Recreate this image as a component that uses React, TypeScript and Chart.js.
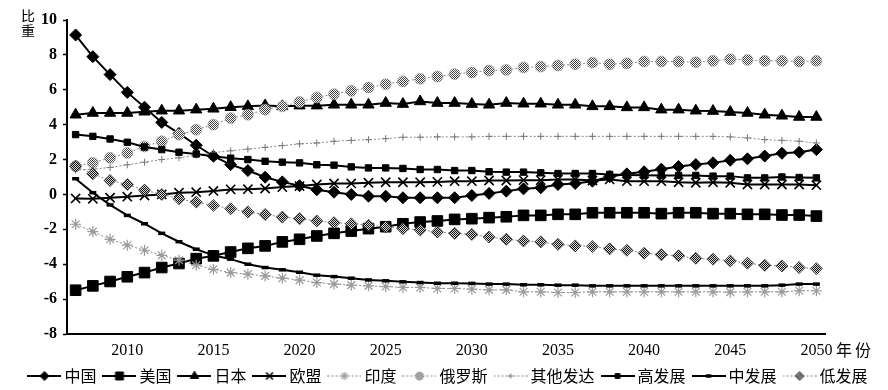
import React, { useEffect, useRef } from 'react';
import { Chart, registerables } from 'chart.js';
import { drawPoint } from 'chart.js/helpers';

Chart.register(...registerables);

// ---------- data ----------
const years = [
  2007, 2008, 2009, 2010, 2011, 2012, 2013, 2014, 2015, 2016, 2017,
  2018, 2019, 2020, 2021, 2022, 2023, 2024, 2025, 2026, 2027, 2028,
  2029, 2030, 2031, 2032, 2033, 2034, 2035, 2036, 2037, 2038, 2039,
  2040, 2041, 2042, 2043, 2044, 2045, 2046, 2047, 2048, 2049, 2050,
];
const xTickYears = [2010, 2015, 2020, 2025, 2030, 2035, 2040, 2045, 2050];
const yMin = -8;
const yMax = 10;
const yStep = 2;
const yAxisTitle = ['比', '重'];
const xAxisTitle = ['年', '份'];

const seriesNames = ['中国', '美国', '日本', '欧盟', '印度', '俄罗斯', '其他发达', '高发展', '中发展', '低发展'];

const china = [
  9.14, 7.9, 6.87, 5.85, 5.0, 4.13, 3.5, 2.82, 2.19, 1.71, 1.37,
  0.99, 0.72, 0.5, 0.27, 0.13, 0.0, -0.1, -0.1, -0.19, -0.19, -0.19,
  -0.19, -0.06, 0.06, 0.19, 0.32, 0.38, 0.57, 0.63, 0.76, 1.02, 1.18,
  1.3, 1.45, 1.6, 1.71, 1.81, 1.96, 2.04, 2.2, 2.36, 2.42, 2.57,
];
const usa = [
  -5.49, -5.24, -4.99, -4.72, -4.48, -4.19, -3.96, -3.68, -3.52, -3.3, -3.09,
  -2.95, -2.72, -2.57, -2.38, -2.23, -2.1, -1.96, -1.85, -1.68, -1.58, -1.52,
  -1.43, -1.39, -1.33, -1.28, -1.2, -1.2, -1.14, -1.14, -1.05, -1.05, -1.05,
  -1.05, -1.1, -1.05, -1.05, -1.1, -1.1, -1.14, -1.14, -1.18, -1.18, -1.24,
];
const japan = [
  4.57, 4.67, 4.67, 4.67, 4.74, 4.8, 4.8, 4.86, 4.91, 5.0, 5.05,
  5.1, 5.05, 5.09, 5.09, 5.14, 5.14, 5.14, 5.24, 5.18, 5.33, 5.24,
  5.24, 5.18, 5.14, 5.24, 5.2, 5.2, 5.14, 5.14, 5.05, 5.05, 4.99,
  4.99, 4.86, 4.86, 4.8, 4.78, 4.72, 4.67, 4.57, 4.51, 4.44, 4.44,
];
const eu = [
  -0.23, -0.25, -0.19, -0.13, -0.06, 0.0, 0.1, 0.13, 0.2, 0.29, 0.3,
  0.34, 0.42, 0.48, 0.57, 0.63, 0.63, 0.67, 0.7, 0.7, 0.7, 0.72,
  0.76, 0.76, 0.8, 0.8, 0.82, 0.82, 0.85, 0.85, 0.8, 0.86, 0.76,
  0.76, 0.76, 0.7, 0.67, 0.7, 0.67, 0.57, 0.57, 0.57, 0.57, 0.53,
];
const india = [
  -1.71, -2.13, -2.57, -2.91, -3.2, -3.49, -3.77, -4.06, -4.29, -4.48, -4.57,
  -4.67, -4.8, -4.91, -5.05, -5.14, -5.2, -5.24, -5.28, -5.33, -5.33, -5.39,
  -5.39, -5.43, -5.47, -5.47, -5.58, -5.58, -5.62, -5.62, -5.58, -5.58, -5.58,
  -5.58, -5.58, -5.58, -5.58, -5.58, -5.6, -5.58, -5.58, -5.58, -5.52, -5.52,
];
const russia = [
  1.62, 1.81, 2.1, 2.38, 2.75, 3.05, 3.43, 3.71, 4.0, 4.38, 4.57,
  4.86, 5.05, 5.3, 5.56, 5.75, 5.94, 6.13, 6.32, 6.48, 6.63, 6.76,
  6.9, 6.99, 7.1, 7.14, 7.28, 7.33, 7.39, 7.47, 7.56, 7.47, 7.52,
  7.62, 7.62, 7.62, 7.58, 7.66, 7.75, 7.71, 7.66, 7.66, 7.62, 7.66,
];
const otherDeveloped = [
  1.4, 1.45, 1.55, 1.7, 1.85, 2.0, 2.1, 2.25, 2.4, 2.5, 2.6,
  2.7, 2.8, 2.9, 2.95, 3.05, 3.1, 3.14, 3.2, 3.28, 3.28, 3.3,
  3.3, 3.3, 3.33, 3.33, 3.33, 3.33, 3.33, 3.33, 3.33, 3.33, 3.33,
  3.33, 3.33, 3.33, 3.33, 3.33, 3.3, 3.24, 3.14, 3.1, 3.05, 2.95,
];
const highDev = [
  3.43, 3.33, 3.18, 2.99, 2.72, 2.57, 2.42, 2.32, 2.19, 2.08, 2.0,
  1.9, 1.85, 1.81, 1.7, 1.68, 1.58, 1.52, 1.52, 1.49, 1.43, 1.43,
  1.37, 1.37, 1.3, 1.28, 1.28, 1.24, 1.2, 1.2, 1.2, 1.15, 1.12,
  1.1, 1.09, 1.09, 1.09, 1.05, 1.05, 0.95, 0.95, 1.0, 0.97, 0.95,
];
const midDev = [
  0.9, 0.1, -0.6, -1.2, -1.68, -2.23, -2.71, -3.14, -3.49, -3.71, -4.0,
  -4.19, -4.32, -4.46, -4.63, -4.71, -4.8, -4.9, -4.95, -5.01, -5.05, -5.09,
  -5.09, -5.1, -5.14, -5.14, -5.18, -5.18, -5.2, -5.2, -5.24, -5.24, -5.24,
  -5.24, -5.24, -5.24, -5.24, -5.24, -5.24, -5.24, -5.24, -5.2, -5.14, -5.14,
];
const lowDev = [
  1.62, 1.18, 0.8, 0.57, 0.25, 0.0, -0.25, -0.44, -0.63, -0.82, -1.0,
  -1.15, -1.3, -1.39, -1.52, -1.62, -1.68, -1.77, -1.87, -1.96, -2.04, -2.15,
  -2.23, -2.29, -2.44, -2.57, -2.67, -2.72, -2.86, -2.95, -2.98, -3.12, -3.2,
  -3.37, -3.45, -3.52, -3.66, -3.71, -3.81, -3.94, -4.06, -4.1, -4.19, -4.25,
];

const seriesValues = [china, usa, japan, eu, india, russia, otherDeveloped, highDev, midDev, lowDev];

// ---------- styles ----------
type Fill = string | { dark: string; light: string };
interface SeriesStyle {
  line: string;
  lineWidth: number;
  dash: number[];
  pointStyle: string;
  radius: number;
  fill: Fill;
  border: string;
  borderWidth: number;
}
const solid = '#000';
const gray = '#8a8a8a';
const styles: SeriesStyle[] = [
  { line: solid, lineWidth: 2, dash: [], pointStyle: 'rectRot', radius: 6, fill: '#000', border: '#000', borderWidth: 1 },
  { line: solid, lineWidth: 2, dash: [], pointStyle: 'rect', radius: 7.5, fill: '#000', border: '#000', borderWidth: 1 },
  { line: solid, lineWidth: 2, dash: [], pointStyle: 'triangle', radius: 6.5, fill: '#000', border: '#000', borderWidth: 1 },
  { line: solid, lineWidth: 2, dash: [], pointStyle: 'crossRot', radius: 6.5, fill: '#000', border: '#000', borderWidth: 1.6 },
  { line: gray, lineWidth: 1, dash: [2, 2], pointStyle: 'star', radius: 5.5, fill: '#aaa', border: '#9a9a9a', borderWidth: 1.2 },
  { line: gray, lineWidth: 1, dash: [2, 2], pointStyle: 'circle', radius: 5.5, fill: { dark: '#444444', light: '#ffffff' }, border: '#999999', borderWidth: 0.6 },
  { line: gray, lineWidth: 1, dash: [2, 2], pointStyle: 'cross', radius: 3.5, fill: '#777', border: '#777', borderWidth: 1 },
  { line: solid, lineWidth: 2, dash: [], pointStyle: 'rect', radius: 4.5, fill: '#000', border: '#000', borderWidth: 1 },
  { line: solid, lineWidth: 2, dash: [], pointStyle: 'line', radius: 3.5, fill: '#000', border: '#000', borderWidth: 3.5 },
  { line: gray, lineWidth: 1, dash: [2, 2], pointStyle: 'rectRot', radius: 6, fill: { dark: '#111111', light: '#d8d8d8' }, border: '#333', borderWidth: 0.8 },
];

const TICK_FAMILY = '"Liberation Serif", "Times New Roman", serif';
const CJK_FAMILY = '"Noto Sans CJK SC", "Noto Sans", sans-serif';

function makePattern(ctx: CanvasRenderingContext2D, f: { dark: string; light: string }) {
  const c = document.createElement('canvas');
  c.width = 2;
  c.height = 2;
  const g = c.getContext('2d')!;
  g.fillStyle = f.light;
  g.fillRect(0, 0, 2, 2);
  g.fillStyle = f.dark;
  g.fillRect(0, 0, 1, 1);
  g.fillRect(1, 1, 1, 1);
  return ctx.createPattern(c, 'repeat') as CanvasPattern;
}

function resolveFill(ctx: CanvasRenderingContext2D, f: Fill) {
  return typeof f === 'string' ? f : makePattern(ctx, f);
}

const ICON_W = 34;
const ICON_H = 16;
function legendIcon(s: SeriesStyle): HTMLCanvasElement {
  const c = document.createElement('canvas');
  c.width = ICON_W;
  c.height = ICON_H;
  const g = c.getContext('2d')!;
  g.strokeStyle = s.line;
  g.lineWidth = s.lineWidth;
  g.setLineDash(s.dash);
  g.beginPath();
  g.moveTo(0, ICON_H / 2);
  g.lineTo(ICON_W, ICON_H / 2);
  g.stroke();
  g.setLineDash([]);
  g.fillStyle = resolveFill(g, s.fill) as any;
  g.strokeStyle = s.border;
  g.lineWidth = s.borderWidth;
  drawPoint(g, { pointStyle: s.pointStyle as any, radius: s.radius * 0.75, rotation: 0, borderWidth: s.borderWidth } as any, ICON_W / 2, ICON_H / 2);
  return c;
}

const textPlugin = {
  id: 'axisTexts',
  afterDraw(chart: any) {
    const { ctx, chartArea } = chart;
    ctx.save();
    ctx.fillStyle = '#000';
    ctx.textAlign = 'center';
    ctx.textBaseline = 'middle';
    ctx.font = '14px ' + CJK_FAMILY;
    ctx.fillText(yAxisTitle[0], chartArea.left - 39, chartArea.top - 4);
    ctx.fillText(yAxisTitle[1], chartArea.left - 39, chartArea.top + 11);
    ctx.font = '16px ' + CJK_FAMILY;
    ctx.fillText(xAxisTitle[0], chartArea.right + 19, chartArea.bottom + 16);
    ctx.fillText(xAxisTitle[1], chartArea.right + 38, chartArea.bottom + 16);
    ctx.restore();
  },
};

export default function App() {
  const ref = useRef<HTMLCanvasElement>(null);
  useEffect(() => {
    let chart: Chart | null = null;
    let cancelled = false;
    const build = () => {
      if (cancelled) return;
      const canvas = ref.current!;
      const ctx = canvas.getContext('2d')!;
      const icons = styles.map((s) => legendIcon(s));
      const n = seriesNames.length;
      const datasets = seriesNames.map((name, i) => {
        const s = styles[i];
        return {
          label: name,
          data: seriesValues[i],
          borderColor: s.line,
          borderWidth: s.lineWidth,
          borderDash: s.dash,
          backgroundColor: s.line,
          pointStyle: s.pointStyle as any,
          pointRadius: s.radius,
          pointHoverRadius: s.radius,
          pointBackgroundColor: resolveFill(ctx, s.fill) as any,
          pointBorderColor: s.border,
          pointBorderWidth: s.borderWidth,
          tension: 0,
          fill: false,
          order: n - i,
        };
      });
      chart = new Chart(canvas, {
        type: 'line',
        data: { labels: years.map(String), datasets },
        options: {
          animation: false,
          responsive: false,
          events: [],
          layout: { padding: { top: 20, left: 12, right: 0, bottom: -4 } },
          plugins: {
            tooltip: { enabled: false },
            legend: {
              position: 'bottom',
              align: 'center',
              labels: {
                usePointStyle: true,
                pointStyleWidth: 24,
                boxHeight: 8,
                padding: 11,
                color: '#000',
                font: { family: CJK_FAMILY, size: 16 },
                generateLabels: () =>
                  seriesNames.map((name, i) => ({
                    text: name,
                    pointStyle: icons[i] as any,
                    fillStyle: '#000',
                    strokeStyle: '#000',
                    lineWidth: 0,
                    hidden: false,
                    datasetIndex: i,
                    fontColor: '#000',
                  })),
              },
            },
          },
          scales: {
            x: {
              type: 'category',
              offset: true,
              grid: { display: false, drawTicks: false },
              border: { display: true, color: '#000', width: 2 },
              ticks: {
                autoSkip: false,
                maxRotation: 0,
                minRotation: 0,
                padding: 7,
                color: '#000',
                font: { family: TICK_FAMILY, size: 16 },
                callback: (_v: any, idx: number) => (xTickYears.includes(years[idx]) ? String(years[idx]) : ''),
              },
              afterFit: (scale: any) => {
                scale.height = 23;
              },
            },
            y: {
              type: 'linear',
              min: yMin,
              max: yMax,
              grid: { display: true, drawOnChartArea: false, drawTicks: true, tickLength: 4, tickColor: '#000', tickWidth: 1.5, color: '#000' },
              border: { display: true, color: '#000', width: 2 },
              ticks: {
                stepSize: yStep,
                padding: 6,
                color: '#000',
                font: { family: TICK_FAMILY, size: 16, weight: 'bold' },
              },
              afterFit: (scale: any) => {
                scale.width = 55;
              },
            },
            yRight: {
              type: 'linear',
              position: 'right',
              display: true,
              grid: { display: false, drawTicks: false },
              border: { display: false },
              ticks: { display: false },
              afterFit: (scale: any) => {
                scale.width = 63;
              },
            },
          },
        } as any,
        plugins: [textPlugin],
      });
    };
    const fonts = (document as any).fonts;
    if (fonts && fonts.load) {
      Promise.all([
        fonts.load('16px "Liberation Serif"'),
        fonts.load('bold 16px "Liberation Serif"'),
        fonts.load('16px "Noto Sans CJK SC"', '中国'),
      ])
        .catch(() => null)
        .then(build);
    } else {
      build();
    }
    return () => {
      cancelled = true;
      if (chart) chart.destroy();
    };
  }, []);
  return (
    <div style={{ position: 'fixed', left: 0, top: 0, width: 888, height: 390, background: '#fff' }}>
      <canvas ref={ref} width={888} height={390} style={{ display: 'block' }} />
    </div>
  );
}
